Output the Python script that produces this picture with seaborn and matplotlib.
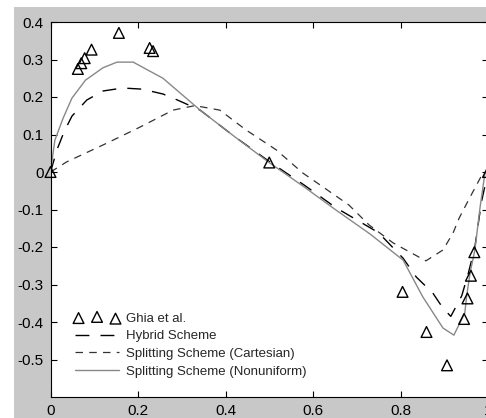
import numpy as np
import pandas as pd
import seaborn as sns
import matplotlib.pyplot as plt
from matplotlib.patches import Rectangle

# Ghia et al. reference points
ghia_x = [1.0, 0.9688, 0.9609, 0.9531, 0.9453, 0.9063, 0.8594, 0.8047, 0.5,
          0.2344, 0.2266, 0.1563, 0.0938, 0.0781, 0.0703, 0.0625, 0.0]
ghia_y = [0.0, -0.21388, -0.27669, -0.33714, -0.39188, -0.5155, -0.42665, -0.31966, 0.02526,
          0.32235, 0.33075, 0.37095, 0.32627, 0.30353, 0.29012, 0.27485, 0.0]

# Hybrid scheme
hyb_x = [0, 0.015, 0.031, 0.049, 0.083, 0.12, 0.165, 0.209, 0.257, 0.29, 0.342, 0.42,
         0.5, 0.58, 0.652, 0.75, 0.806, 0.836, 0.874, 0.897, 0.915, 0.94, 0.955, 0.97, 0.985, 1.0]
hyb_y = [0, 0.06, 0.107, 0.149, 0.192, 0.216, 0.224, 0.221, 0.208, 0.192, 0.165, 0.095,
         0.028, -0.035, -0.095, -0.162, -0.23, -0.28, -0.323, -0.363, -0.385, -0.33, -0.27, -0.2, -0.08, 0]

# Splitting scheme (Cartesian)
cart_x = [0, 0.037, 0.129, 0.205, 0.28, 0.33, 0.387, 0.447, 0.516, 0.577, 0.623, 0.682,
          0.728, 0.783, 0.858, 0.897, 0.92, 0.934, 0.959, 0.986, 1.0]
cart_y = [0, 0.027, 0.077, 0.12, 0.165, 0.177, 0.165, 0.112, 0.059, -0.003, -0.04, -0.088,
          -0.141, -0.189, -0.237, -0.208, -0.163, -0.123, -0.067, -0.008, 0]

# Splitting scheme (Nonuniform)
nonu_x = [0, 0.01, 0.029, 0.049, 0.08, 0.12, 0.152, 0.189, 0.257, 0.342, 0.42, 0.5, 0.58,
          0.652, 0.73, 0.806, 0.851, 0.897, 0.922, 0.947, 0.951, 0.959, 0.97, 0.982, 0.993, 1.0]
nonu_y = [0, 0.085, 0.144, 0.197, 0.245, 0.278, 0.293, 0.293, 0.25, 0.165, 0.095, 0.025, -0.04,
          -0.101, -0.165, -0.235, -0.333, -0.416, -0.435, -0.376, -0.333, -0.269, -0.208, -0.093, -0.003, 0]

x_ticks = [0, 0.2, 0.4, 0.6, 0.8, 1.0]
x_labels = ["0", "0.2", "0.4", "0.6", "0.8", "1"]
y_ticks = [-0.5, -0.4, -0.3, -0.2, -0.1, 0, 0.1, 0.2, 0.3, 0.4]
y_labels = ["-0.5", "-0.4", "-0.3", "-0.2", "-0.1", "0", "0.1", "0.2", "0.3", "0.4"]

sns.set_style("ticks")
plt.rcParams['font.family'] = ['Liberation Sans', 'DejaVu Sans']

fig = plt.figure(figsize=(4.86, 4.18), dpi=100, facecolor="white")
# grey window background (leaves a thin white strip top/left)
fig.patches.append(Rectangle((14 / 486, 0), 1, 1 - 7 / 418, transform=fig.transFigure,
                             facecolor="#c8c8c8", edgecolor="none", zorder=-10))
ax = fig.add_axes([50.5 / 486, 21 / 418, 437.5 / 486, 375 / 418])
ax.set_zorder(1)
ax.set_facecolor("white")

sns.lineplot(x=hyb_x, y=hyb_y, ax=ax, color="black", lw=1.0, sort=False,
             label="Hybrid Scheme").lines[-1].set_dashes([10, 8])
sns.lineplot(x=cart_x, y=cart_y, ax=ax, color="#333333", lw=0.9, sort=False,
             label="Splitting Scheme (Cartesian)").lines[-1].set_dashes([6, 5])
sns.lineplot(x=nonu_x, y=nonu_y, ax=ax, color="#888888", lw=1.0, sort=False,
             label="Splitting Scheme (Nonuniform)")
sns.scatterplot(x=ghia_x, y=ghia_y, ax=ax, marker="^", s=60, facecolors="none",
                edgecolor="black", linewidth=1.0, label="Ghia et al.", clip_on=False, zorder=5)

ax.set_xlim(0, 1)
ax.set_ylim(-0.6, 0.4)
ax.set_xticks(x_ticks)
ax.set_xticklabels(x_labels)
ax.set_yticks(y_ticks)
ax.set_yticklabels(y_labels)
ax.tick_params(direction="in", length=4, width=0.8, top=True, right=True,
               labelsize=11, pad=5, color="black", labelcolor="black")
for s in ax.spines.values():
    s.set_visible(True)
    s.set_color("black")
    s.set_linewidth(0.8)

handles, labels = ax.get_legend_handles_labels()
order = [3, 0, 1, 2]
ax.legend([handles[i] for i in order], [labels[i] for i in order],
          loc="lower left", bbox_to_anchor=(0.043, 0.037), frameon=False,
          fontsize=9.5, scatterpoints=3, handlelength=3.4, handletextpad=0.5,
          labelspacing=0.42, borderaxespad=0)

fig.savefig("out.png", dpi=100, facecolor=fig.get_facecolor())
